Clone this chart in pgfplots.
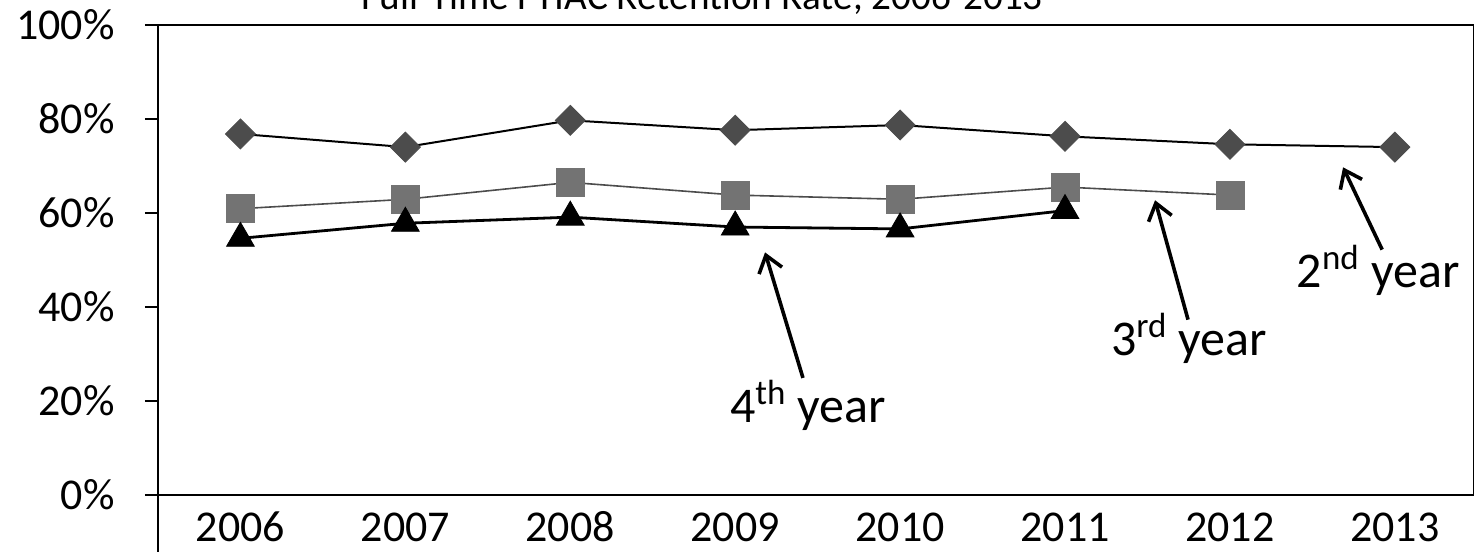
\documentclass[border=0pt]{standalone}
\usepackage{pgfplots}
\pgfplotsset{compat=1.18}
\usepackage{fontspec}
\setmainfont{Carlito}
\usetikzlibrary{arrows.meta}

\begin{document}
\begin{tikzpicture}
\begin{axis}[
  x=82.45pt, y=2.35pt,
  xmin=-0.5, xmax=7.48, ymin=0, ymax=100,
  clip=false,
  axis line style={line width=1pt},
  xtick={0,...,7},
  xticklabels={2006,2007,2008,2009,2010,2011,2012,2013},
  xtick style={draw=none},
  ytick={0,20,...,100},
  ytick pos=left,
  tick align=outside,
  major tick length=6.5pt,
  ytick style={line width=1pt, black},
  yticklabel={\pgfmathprintnumber{\tick}\%},
  /pgf/number format/assume math mode=true,
  tick label style={font=\fontsize{22}{24}\selectfont},
  yticklabel style={anchor=east, inner sep=0pt, xshift=-15pt},
  xticklabel style={anchor=base, inner sep=0pt, yshift=-17pt},
]
% 3rd year
\addplot[black!70, line width=0.8pt, mark=square*, mark size=7pt,
  mark options={solid, line width=0.4pt, fill=black!55, draw=black!55}]
  coordinates {(0,60.9)(1,62.9)(2,66.5)(3,63.8)(4,62.9)(5,65.5)(6,63.8)};
% 4th year
\addplot[black, line width=1.4pt, mark=triangle*, mark size=8pt,
  mark options={solid, line width=0.4pt, fill=black}]
  coordinates {(0,54.6)(1,57.8)(2,59.1)(3,57.0)(4,56.6)(5,60.5)};
% 2nd year
\addplot[black, line width=1pt, mark=square*, mark size=5.3pt,
  mark options={solid, rotate=45, line width=0.4pt, fill=black!70, draw=black!70}]
  coordinates {(0,76.8)(1,74.0)(2,79.7)(3,77.6)(4,78.7)(5,76.3)(6,74.6)(7,74.0)};

\draw[line width=1pt] (axis cs:-0.5,0) -- (axis cs:-0.5,-12.2);

\draw[line width=1.8pt, -{Straight Barb[length=8pt, width=12pt]}]
  (axis cs:3.411,24.9) -- (axis cs:3.181,51.6);
\draw[line width=1.8pt, -{Straight Barb[length=8pt, width=12pt]}]
  (axis cs:5.746,37.3) -- (axis cs:5.546,62.7);
\draw[line width=1.8pt, -{Straight Barb[length=8pt, width=12pt]}]
  (axis cs:6.923,52.2) -- (axis cs:6.686,69.7);

\node[anchor=base, font=\fontsize{25}{30}\selectfont] at (axis cs:3.442,15.35) {4\textsuperscript{th} year};
\node[anchor=base, font=\fontsize{25}{30}\selectfont] at (axis cs:5.752,29.6) {3\textsuperscript{rd} year};
\node[anchor=base, font=\fontsize{25}{30}\selectfont] at (axis cs:6.898,44.1) {2\textsuperscript{nd} year};

\node[anchor=base, font=\fontsize{19.6}{22}\selectfont] at (axis cs:2.80,103.2) {Full-Time FTIAC Retention Rate, 2006-2013};

\coordinate (bbsw) at (axis cs:-1.458,-12.13);
\coordinate (bbne) at (axis cs:7.48,105.3);
\end{axis}
\pgfresetboundingbox
\path[use as bounding box] (bbsw) rectangle (bbne);
\end{tikzpicture}
\end{document}
